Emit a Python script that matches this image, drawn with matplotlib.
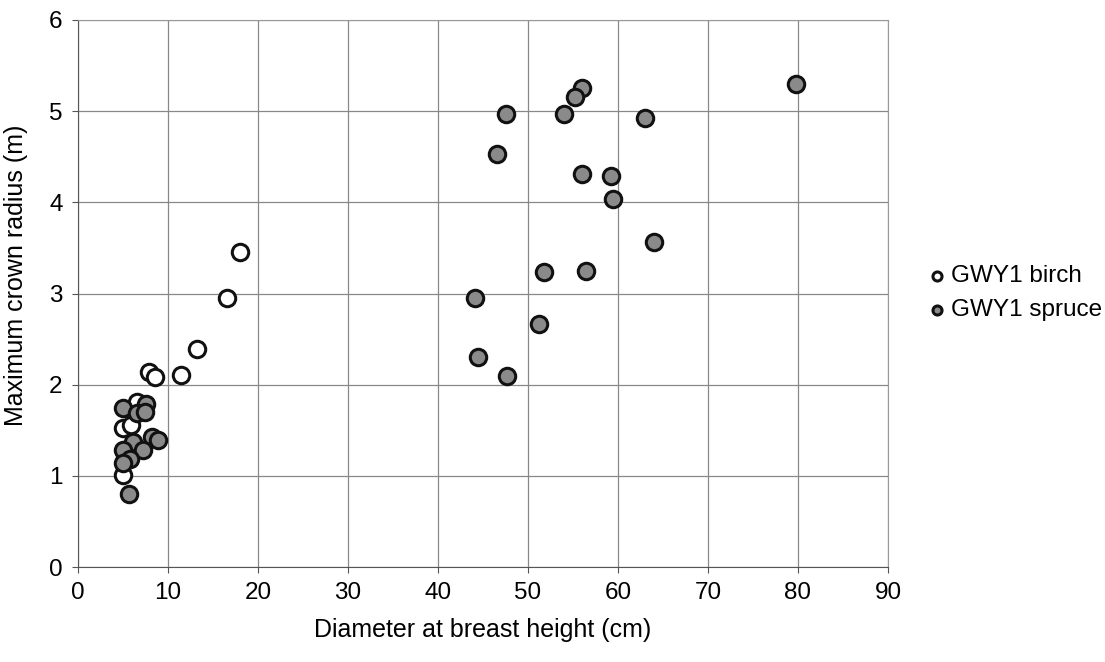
import matplotlib
matplotlib.use("Agg")
import matplotlib.pyplot as plt

plt.rcParams['font.family'] = ['Liberation Sans', 'DejaVu Sans']

birch_dbh = [18.0, 16.6, 13.2, 11.4, 7.9, 8.6, 6.6, 5.0, 5.9, 5.0]
birch_radius = [3.46, 2.95, 2.39, 2.11, 2.14, 2.08, 1.81, 1.53, 1.56, 1.01]

spruce_dbh = [56.0, 55.2, 47.6, 54.0, 63.0, 46.6, 56.0, 59.2, 59.4, 64.0, 51.8, 56.4,
              44.1, 51.2, 44.5, 47.7, 79.8,
              5.0, 7.5, 6.5, 7.4, 8.2, 8.9, 6.15, 5.0, 7.26, 5.8, 5.0, 5.7]
spruce_radius = [5.25, 5.16, 4.97, 4.97, 4.93, 4.53, 4.31, 4.29, 4.04, 3.57, 3.24, 3.25,
                 2.95, 2.66, 2.30, 2.10, 5.30,
                 1.74, 1.79, 1.69, 1.70, 1.43, 1.39, 1.37, 1.28, 1.28, 1.18, 1.14, 0.80]

x_ticks = [0, 10, 20, 30, 40, 50, 60, 70, 80, 90]
y_ticks = [0, 1, 2, 3, 4, 5, 6]

fig = plt.figure(figsize=(11.05, 6.62), dpi=100)
ax = fig.add_axes([78/1105, 1 - 567/662, (888-78)/1105, (567-20)/662])

ax.scatter(birch_dbh, birch_radius, s=140, facecolor='white', edgecolor='#111111',
           linewidths=2.2, label='GWY1 birch', zorder=3)
ax.scatter(spruce_dbh, spruce_radius, s=140, facecolor='#8a8a8a', edgecolor='#111111',
           linewidths=2.2, label='GWY1 spruce', zorder=3)

ax.set_xlim(0, 90)
ax.set_ylim(0, 6)
ax.set_xticks(x_ticks)
ax.set_yticks(y_ticks)
ax.grid(True, color='#888888', linewidth=0.9)
ax.set_axisbelow(True)
for side in ['top', 'right']:
    ax.spines[side].set_color('#999999')
for side in ['left', 'bottom']:
    ax.spines[side].set_color('#555555')
ax.tick_params(direction='out', length=4, color='#555555', labelsize=17.5, pad=7)
ax.set_xlabel('Diameter at breast height (cm)', fontsize=18, labelpad=10)
ax.set_ylabel('Maximum crown radius (m)', fontsize=18, labelpad=12)
ax.yaxis.set_label_coords(-0.062, (567 - 275) / 547)

leg = fig.legend(loc='center left', bbox_to_anchor=(918/1105, 1 - 293/662), frameon=False,
                 fontsize=17.5, handletextpad=0.25, markerscale=0.55, labelspacing=0.5,
                 borderpad=0, handlelength=0.6)

fig.savefig('out.png', dpi=100)
